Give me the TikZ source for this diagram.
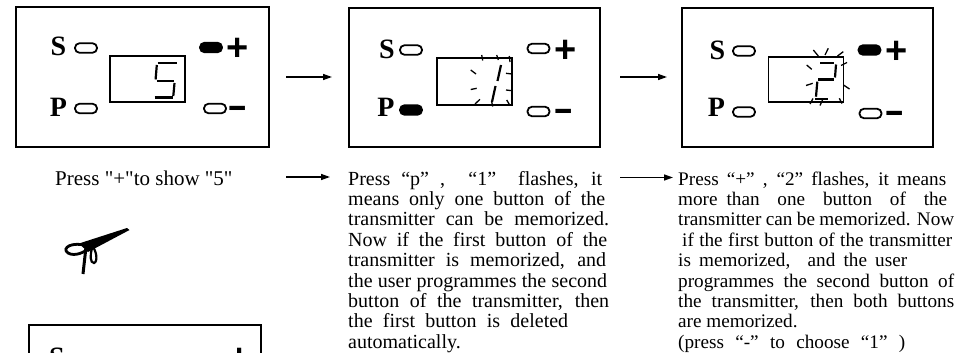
\documentclass[tikz,border=0pt]{standalone}
\usepackage{fontspec}
\setmainfont{Liberation Serif}
\newfontfamily\rawserif{Liberation Serif}
\newfontfamily\sansfam{Liberation Sans}
\usetikzlibrary{arrows.meta}
\tikzset{
  panelbox/.style={draw, line width=2pt, inner sep=0pt, rectangle},
  dispbox/.style={draw, line width=1.6pt, inner sep=0pt, rectangle},
  pill/.style={draw, line width=1.8pt, rounded corners=4.5pt, minimum width=22pt, minimum height=9.5pt, inner sep=0pt},
  pillon/.style={pill, fill=black},
  keylbl/.style={font=\fontsize{28}{28}\selectfont\bfseries, inner sep=0pt, anchor=base},
  pluslbl/.style={font=\sansfam\bfseries\fontsize{38}{38}\selectfont, inner sep=0pt, anchor=base},
  minuslbl/.style={font=\sansfam\bfseries\fontsize{35}{35}\selectfont, inner sep=0pt, anchor=base},
  seg/.style={line width=2.2pt},
  ray/.style={line width=1.3pt},
  flow/.style={line width=1.5pt, -{Triangle[length=9pt,width=6pt]}},
  txt/.style={anchor=base west, inner sep=0pt, font=\fontsize{20}{24}\selectfont},
  txtb/.style={anchor=base west, inner sep=0pt, font=\fontsize{19.2}{24}\selectfont},
  txta/.style={anchor=base west, inner sep=0pt, font=\rawserif\fontsize{21}{24}\selectfont},
}
\newcommand{\mn}{\scalebox{1.75}[1]{-}}
\begin{document}
\begin{tikzpicture}[x=1pt,y=-1pt]
\useasboundingbox (0,0) rectangle (967,353);
\clip (0,0) rectangle (967,353);

% ---------- panel 1 ----------
\node[panelbox, minimum width=253pt, minimum height=140pt] (p1) at (142.5,77) {};
\node[dispbox, minimum width=75pt, minimum height=46pt] (d1) at (147.5,79) {};
\node[keylbl] (s1) at (58.5,56) {S};
\node[keylbl] (pp1) at (58.5,116) {P};
\node[pill] (sl1) at (86,48) {};
\node[pillon] (pl1) at (211,47.5) {};
\node[pill] (ppl1) at (86,108.5) {};
\node[pill] (ml1) at (215,108.5) {};
\node[pluslbl] (plus1) at (238,60.1) {+};
\node[minuslbl] (minus1) at (237.5,117.6) {\mn};
% digit 5
\draw[seg] (157.5,63) -- (176.5,63);
\draw[seg] (156.8,65) -- (155.6,79.5);
\draw[seg] (156.5,81) -- (173.5,81);
\draw[seg] (174.5,83) -- (173.3,96);
\draw[seg] (154.5,97.5) -- (172.5,97.5);

% ---------- panel 2 ----------
\node[panelbox, minimum width=251pt, minimum height=139pt] (p2) at (474.5,77.5) {};
\node[dispbox, minimum width=75pt, minimum height=47pt] (d2) at (474.5,81.5) {};
\node[keylbl] (s2) at (387,59) {S};
\node[keylbl] (pp2) at (386,116) {P};
\node[pill] (sl2) at (411,50) {};
\node[pill] (pl2) at (538.5,48.5) {};
\node[pillon] (ppl2) at (411,110) {};
\node[pill] (ml2) at (538.5,111.5) {};
\node[pluslbl] (plus2) at (566,62.1) {+};
\node[minuslbl] (minus2) at (564,120.6) {\mn};
% digit 1 flashing
\draw[seg] (501,65) -- (497.5,81);
\draw[seg] (495.5,86) -- (492,102);
\draw[ray] (481.7,55) -- (482.7,60.5);
\draw[ray] (496.7,55) -- (498.3,60);
\draw[ray] (509.3,56) -- (510,62);
\draw[ray] (506,73.3) -- (512,74);
\draw[ray] (506,90) -- (512,90.7);
\draw[ray] (506.7,100) -- (510,105.5);
\draw[ray] (491.7,101.7) -- (492.7,106.5);
\draw[ray] (475,104) -- (480,99.3);
\draw[ray] (470.7,70) -- (476,74);
\draw[ray] (470.7,89.5) -- (476.7,88.3);

% ---------- panel 3 ----------
\node[panelbox, minimum width=251pt, minimum height=139pt] (p3) at (807.5,77.5) {};
\node[dispbox, minimum width=75pt, minimum height=45pt] (d3) at (806,79.5) {};
\node[keylbl] (s3) at (717.5,60) {S};
\node[keylbl] (pp3) at (716.5,117) {P};
\node[pill] (sl3) at (744,51) {};
\node[pillon] (pl3) at (869.5,50) {};
\node[pill] (ppl3) at (744,112) {};
\node[pill] (ml3) at (870.5,113.5) {};
\node[pluslbl] (plus3) at (897,63.1) {+};
\node[minuslbl] (minus3) at (895,122.6) {\mn};
% digit 2 flashing
\draw[seg] (820,62.7) -- (834,62.7);
\draw[seg] (836,64.5) -- (835,77.5);
\draw[seg] (818.3,79.5) -- (834,79.5);
\draw[seg] (817.3,81.7) -- (816,96.7);
\draw[seg] (815,99.3) -- (828.3,99.3);
\draw[ray] (813.3,50) -- (818.3,56);
\draw[ray] (828.3,48.3) -- (825,55);
\draw[ray] (843.3,51.7) -- (837.5,56);
\draw[ray] (847,62.5) -- (841,65.5);
\draw[ray] (849.5,89) -- (843.5,85);
\draw[ray] (806.7,65) -- (811.7,69.3);
\draw[ray] (806,85.5) -- (812.7,83.3);
\draw[ray] (810,104) -- (813,98.5);
\draw[ray] (820,105.5) -- (822.5,100);
\draw[ray] (839.3,98.3) -- (842,103.5);

% ---------- panel 4 (cut off by the page edge) ----------
\node[panelbox, minimum width=232pt, minimum height=150pt] (p4) at (145,400) {};
\node[keylbl] (s4) at (57,366) {S};
\node[pluslbl] (plus4) at (240,370.6) {+};

% ---------- arrows ----------
\coordinate (a1s) at (286,77);  \coordinate (a1e) at (332,77);
\coordinate (a2s) at (620,77);  \coordinate (a2e) at (667,77);
\coordinate (a3s) at (286,177); \coordinate (a3e) at (330,177);
\coordinate (a4s) at (620,177.5); \coordinate (a4e) at (673,177.5);
\draw[flow] (a1s) -- (a1e);
\draw[flow] (a2s) -- (a2e);
\draw[flow] (a3s) -- (a3e);
\draw[flow] (a4s) -- (a4e);

% ---------- captions ----------
\node[txta] (c1) at (55,185) {Press "+"to show "5"};

\node[txt] (c2a) at (348,185) {\makebox[254pt][s]{Press “p” , \ “1” \ flashes, it}};
\node[txt] (c2b) at (348,205.4) {\makebox[257pt][s]{means only one button of the}};
\node[txt] (c2c) at (348,225.8) {\makebox[261pt][s]{transmitter can be memorized.}};
\node[txt] (c2d) at (348,246.2) {\makebox[259pt][s]{Now if the first button of the}};
\node[txt] (c2e) at (348,266.6) {\makebox[258pt][s]{transmitter is memorized, and}};
\node[txt] (c2f) at (348,287.0) {\makebox[259pt][s]{the user programmes the second}};
\node[txt] (c2g) at (348,307.4) {\makebox[261pt][s]{button of the transmitter, then}};
\node[txt] (c2h) at (348,327.8) {\makebox[220pt][s]{the first button is deleted}};
\node[txt] (c2i) at (348,348.2) {automatically.};

\node[txtb] (c3a) at (678,185) {\makebox[268pt][s]{Press “+” , “2” flashes, it means}};
\node[txtb] (c3b) at (678,205.4) {\makebox[269pt][s]{more than \ one \ button \ of \ the}};
\node[txtb] (c3c) at (678,225.8) {\makebox[276pt][s]{transmitter can be memorized. Now}};
\node[txtb] (c3d) at (682,246.2) {\makebox[270pt][s]{if the first button of the transmitter}};
\node[txtb] (c3e) at (678,266.6) {\makebox[229pt][s]{is memorized, \ and the user}};
\node[txtb] (c3f) at (678,287.0) {\makebox[276pt][s]{programmes the second button of}};
\node[txtb] (c3g) at (678,307.4) {\makebox[276pt][s]{the transmitter, then both buttons}};
\node[txtb] (c3h) at (678,327.8) {are memorized.};
\node[txtb] (c3i) at (678,348.2) {\makebox[227pt][s]{(press “-” to choose “1” )}};

% ---------- signature ----------
\fill (79,243.5) -- (127,228) -- (129.5,230) -- (88,252) -- cycle;
\draw[line width=2.8pt] (88,246) .. controls (72,241) and (61,248) .. (68,253) .. controls (75,257) and (85,252) .. (89,248);
\draw[line width=3pt] (86,247) -- (83,274);
\draw[line width=2.2pt] (91,245) .. controls (97,250) and (98,262) .. (94,263) .. controls (90,263) and (90,255) .. (92,248);
\end{tikzpicture}
\end{document}
